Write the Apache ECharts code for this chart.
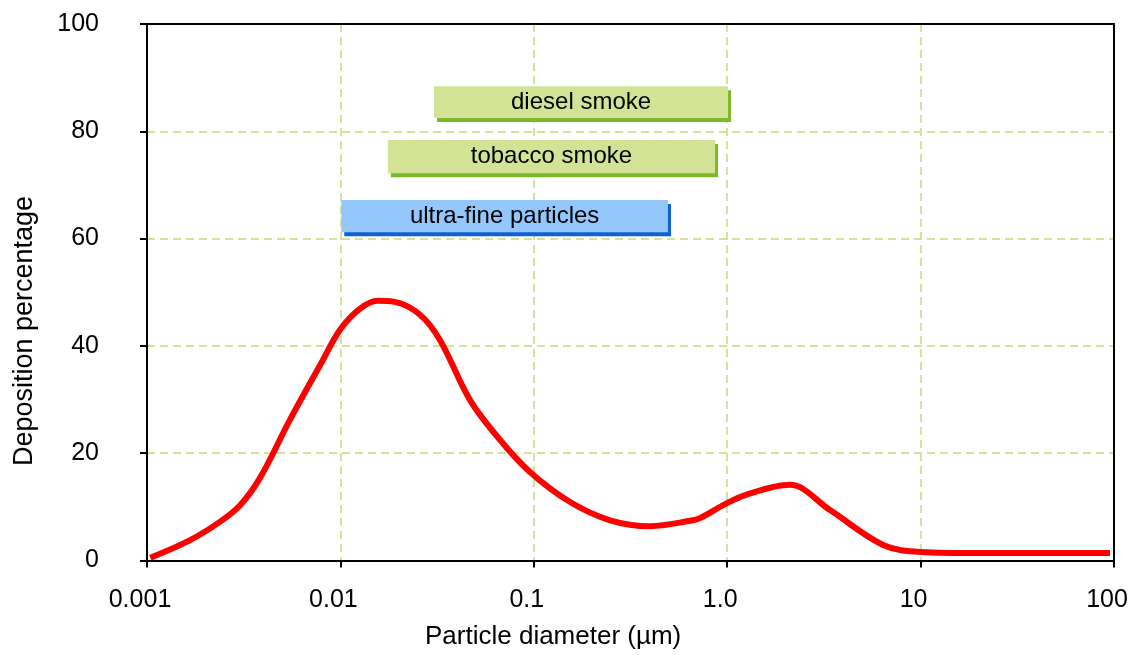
<!DOCTYPE html>
<html>
<head>
<meta charset="utf-8">
<script src="https://cdn.jsdelivr.net/npm/echarts@6/dist/echarts.min.js"></script>
<style>
html,body{margin:0;padding:0;background:#fff;overflow:hidden;}
#chart{width:1130px;height:655px;}
</style>
</head>
<body>
<div id="chart"></div>
<script>
// Particle diameter (µm) and deposition percentage along the curve
const diameters = [0.00104, 0.00167, 0.00238, 0.00303, 0.00384, 0.00548, 0.00785, 0.00996, 0.0126, 0.0156, 0.0191, 0.0258, 0.0327, 0.0468, 0.0668, 0.0955, 0.154, 0.248, 0.399, 0.643, 0.723, 0.975, 1.24, 2.11, 3.40, 6.4, 10, 20, 95.3];
const deposition = [0.5, 3.8, 7.2, 10.3, 15.4, 26.2, 36.4, 43, 46.9, 48.4, 48.2, 45.8, 41.1, 29.9, 22.5, 16.5, 10.9, 7.5, 6.4, 7.4, 7.9, 10.5, 12.2, 14.1, 9.4, 2.9, 1.6, 1.4, 1.4];

// Annotation bands (size ranges)
const bandLabels = ['diesel smoke', 'tobacco smoke', 'ultra-fine particles'];
const bandStart = [0.0305, 0.0176, 0.0101];
const bandEnd = [1.01, 0.865, 0.494];
const bandTop = [88.4, 78.4, 67.2];
const bandBottom = [82.5, 72.2, 61.2];

// Axis tick labels
const xTickValues = [0.001, 0.01, 0.1, 1, 10, 100];
const xTickLabels = ['0.001', '0.01', '0.1', '1.0', '10', '100'];
const yTickLabels = ['0', '20', '40', '60', '80', '100'];

const bandFill = ['#d3e396', '#d3e396', '#93c6fb'];
const bandShadow = ['#7aba2a', '#7aba2a', '#1060d8'];

const FONT = '"Liberation Sans", Arial, sans-serif';

const chart = echarts.init(document.getElementById('chart'), null, {renderer: 'canvas', width: 1130, height: 655});

const curveData = diameters.map((d, i) => [d, deposition[i]]);
const bandData = bandLabels.map((l, i) => [bandStart[i], bandEnd[i], bandTop[i], bandBottom[i], i]);

function xLabel(v) {
  for (let i = 0; i < xTickValues.length; i++) {
    if (Math.abs(Math.log10(v) - Math.log10(xTickValues[i])) < 1e-6) return xTickLabels[i];
  }
  return '';
}

const gridLine = {show: true, lineStyle: {color: '#d4e39b', width: 2, type: [8, 5]}};

const option = {
  backgroundColor: '#ffffff',
  animation: false,
  grid: {
    left: 147, right: 16, top: 24, bottom: 94.5,
    show: false, containLabel: false, outerBoundsMode: 'none'
  },
  xAxis: [{
    type: 'log', logBase: 10, min: 0.001, max: 100,
    axisLine: {show: true, onZero: false, lineStyle: {color: '#000', width: 2}},
    axisTick: {show: true, length: 7, lineStyle: {color: '#000', width: 2}},
    minorTick: {show: false},
    axisLabel: {
      margin: 27, color: '#000', fontSize: 25, fontFamily: FONT,
      padding: [0, 14, 0, 0],
      formatter: xLabel
    },
    splitLine: gridLine
  }, {
    type: 'log', logBase: 10, min: 0.001, max: 100, position: 'top',
    axisLine: {show: true, onZero: false, lineStyle: {color: '#000', width: 2}},
    axisTick: {show: false}, axisLabel: {show: false}, splitLine: {show: false}
  }],
  yAxis: [{
    type: 'value', min: 0, max: 100, interval: 20,
    axisLine: {show: true, lineStyle: {color: '#000', width: 2}},
    axisTick: {show: true, length: 7, lineStyle: {color: '#000', width: 2}},
    axisLabel: {
      margin: 48, color: '#000', fontSize: 25, fontFamily: FONT,
      formatter: function (v) { return yTickLabels[Math.round(v / 20)]; }
    },
    splitLine: gridLine
  }, {
    type: 'value', min: 0, max: 100, interval: 20, position: 'right',
    axisLine: {show: true, onZero: false, lineStyle: {color: '#000', width: 2}},
    axisTick: {show: false}, axisLabel: {show: false}, splitLine: {show: false}
  }],
  graphic: [
    {
      type: 'text', left: 425, top: 624,
      style: {text: 'Particle diameter (µm)', fill: '#000', font: '26px ' + FONT}
    },
    {
      type: 'text', x: 25, y: 331, rotation: Math.PI / 2,
      style: {text: 'Deposition percentage', fill: '#000', font: '27px ' + FONT,
        textAlign: 'center', textVerticalAlign: 'middle'}
    }
  ],
  series: [
    {
      type: 'custom',
      data: bandData,
      encode: {x: [0, 1], y: [2, 3]},
      z: 3,
      renderItem: function (params, api) {
        const i = api.value(4);
        const p1 = api.coord([api.value(0), api.value(2)]);
        const p2 = api.coord([api.value(1), api.value(3)]);
        const w = p2[0] - p1[0];
        const h = p2[1] - p1[1];
        return {
          type: 'group',
          children: [
            {type: 'rect', shape: {x: p1[0] + 3, y: p1[1] + 4, width: w, height: h},
              style: {fill: bandShadow[i]}},
            {type: 'rect', shape: {x: p1[0], y: p1[1], width: w, height: h},
              style: {fill: bandFill[i]}},
            {type: 'text', x: p1[0] + w / 2, y: p1[1] + h / 2,
              style: {text: bandLabels[i], fill: '#000', font: '24px ' + FONT,
                textAlign: 'center', textVerticalAlign: 'middle'}}
          ]
        };
      }
    },
    {
      type: 'line',
      data: curveData,
      smooth: 0.35,
      showSymbol: false,
      symbol: 'none',
      z: 4,
      lineStyle: {color: '#ff0000', width: 6}
    }
  ]
};
chart.setOption(option);
</script>
</body>
</html>
